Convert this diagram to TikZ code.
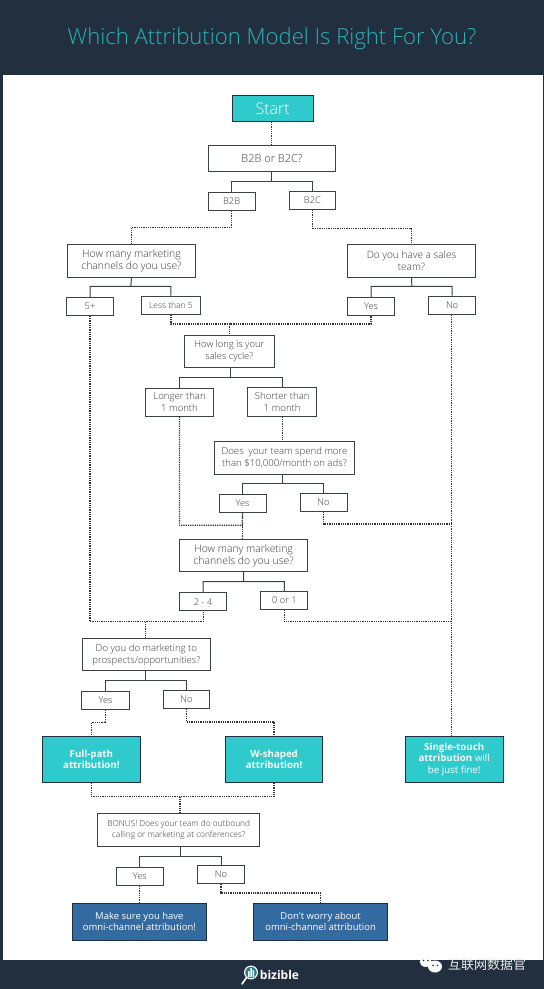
\documentclass[tikz,border=0pt]{standalone}
\usepackage{fontspec}
\setmainfont{Open Sans Light}[BoldFont={Open Sans Bold}]
\newfontfamily\regfont{Open Sans}
\newfontfamily\cjkfont{Noto Sans CJK SC}
\definecolor{navy}{HTML}{212F3F}
\definecolor{teal}{HTML}{2FCACB}
\definecolor{titleteal}{HTML}{2AB3B8}
\definecolor{bluebox}{HTML}{336A9F}
\definecolor{txt}{HTML}{3A3A3A}
\definecolor{edge}{HTML}{3B4148}
\tikzset{
 x=1pt,y=-1pt,
 qbox/.style={draw=edge,line width=1pt,fill=white,inner sep=0pt,align=center,text=txt,font=\fontsize{9.6}{12}\selectfont},
 qbig/.style={qbox,font=\fontsize{10.4}{12}\selectfont},
 small/.style={qbox,font=\fontsize{9.3}{10}\selectfont},
 goal/.style={draw=navy,line width=1pt,fill=teal,inner sep=0pt,align=center,text=white,font=\regfont\fontsize{9.7}{11.4}\selectfont},
 bluegoal/.style={draw=navy,line width=1pt,fill=bluebox,inner sep=0pt,align=center,text=white,font=\regfont\fontsize{9.5}{11}\selectfont},
 bus/.style={draw=edge,line width=1pt},
 dots/.style={draw=black!80,line width=1.25pt,dash pattern=on 1.25pt off 1pt},
}
\newcommand{\bx}[7]{\node[#1,minimum width=#5pt-#3pt,minimum height=#6pt-#4pt] (#2) at ({(#3+#5)/2},{(#4+#6)/2}) {#7};}
\begin{document}
\begin{tikzpicture}
\useasboundingbox (0,0) rectangle (544,989);
\fill[navy] (0,0) rectangle (544,989);
\fill[white] (2.5,75.3) rectangle (542.7,960);
\node[font=\fontsize{22.1}{26}\selectfont,text=titleteal] (title) at (272,39) {Which Attribution Model Is Right For You?};

\bx{goal,font=\fontsize{16}{18}\selectfont}{start}{232.1}{95.3}{313.3}{121.3}{Start}
\bx{qbox,font=\fontsize{11}{13}\selectfont}{q1}{208.2}{145.3}{335.9}{171.7}{B2B or B2C?}
\bx{small}{b2b}{208.2}{192.3}{255}{210.3}{B2B}
\bx{small}{b2c}{289}{191.3}{335.9}{209.3}{B2C}
\bx{qbig}{hm1}{67.3}{244}{195.7}{277}{How many marketing\\channels do you use?}
\bx{qbox,font=\fontsize{10.1}{12}\selectfont}{sales}{347.3}{244}{475.7}{277}{Do you have a sales\\team?}
\bx{small}{five}{66.3}{297.3}{113.8}{315.3}{5+}
\bx{small,font=\fontsize{8.5}{9}\selectfont}{less}{141.2}{296}{200.6}{314}{Less than 5}
\bx{small}{syes}{347.3}{297.3}{394.9}{315.3}{Yes}
\bx{small}{sno}{428.5}{296}{475.7}{314}{No}
\bx{qbox,font=\fontsize{9.4}{12}\selectfont}{cycle}{184.2}{335.3}{274.5}{367.7}{How long is your\\sales cycle?}
\bx{qbox}{longer}{145.4}{388.3}{213.7}{416}{Longer than\\1 month}
\bx{qbox}{shorter}{247.7}{387}{316.8}{416}{Shorter than\\1 month}
\bx{qbox}{ads}{214.4}{441.7}{354.6}{474}{Does\ \ your team spend more\\than \$10,000/month on ads?}
\bx{small}{ayes}{219}{494.3}{266.1}{512.3}{Yes}
\bx{small}{ano}{300.1}{493}{347}{511.3}{No}
\bx{qbig}{hm2}{179.4}{539}{307.8}{571.7}{How many marketing\\channels do you use?}
\bx{small}{two}{179.7}{592.7}{226.6}{610.7}{2 - 4}
\bx{small}{zero}{260.9}{591.3}{307.8}{609.3}{0 or 1}
\bx{qbox}{pros}{82.2}{638.3}{210.6}{670.7}{Do you do marketing to\\prospects/opportunities?}
\bx{small}{pyes}{81.9}{691.3}{129.1}{709.3}{Yes}
\bx{small}{pno}{163.1}{690}{209.9}{708.3}{No}
\bx{goal}{full}{42.3}{736.3}{140.5}{782.3}{\textbf{Full-path}\\\textbf{attribution!}}
\bx{goal}{wsh}{225.5}{736.3}{322.7}{782.3}{\textbf{W-shaped}\\\textbf{attribution!}}
\bx{goal}{single}{405.3}{736.3}{503.1}{782.3}{\textbf{Single-touch}\\\textbf{attribution} will\\be just fine!}
\bx{qbox,font=\fontsize{8.3}{10.4}\selectfont}{bonus}{97.8}{813.7}{259.5}{846.3}{BONUS! Does your team do outbound\\calling or marketing at conferences?}
\bx{small}{byes}{116.2}{867}{163.4}{885.3}{Yes}
\bx{small}{bno}{197.4}{865.7}{244.6}{883.7}{No}
\bx{bluegoal}{sure}{72.2}{903.3}{206.5}{940.3}{Make sure you have\\omni-channel attribution!}
\bx{bluegoal}{dont}{253.6}{903.3}{387.6}{940.3}{Don't worry about\\omni-channel attribution}

% junction coordinates
\coordinate (r1) at (271.3,181.3);
\coordinate (r2) at (130.8,286.3);
\coordinate (r3) at (411.9,286.3);
\coordinate (r4) at (230.7,377.3);
\coordinate (r5) at (282.8,483.3);
\coordinate (r6) at (243.6,581.7);
\coordinate (r7) at (145.7,680.3);
\coordinate (r8) at (180.4,856);
\coordinate (d1) at (180.8,227.3);
\coordinate (d2) at (311.6,228.3);
\coordinate (d3) at (229.7,324);
\coordinate (d4) at (242.2,525.3);
\coordinate (d5) at (451.8,524);
\coordinate (d6) at (145.7,621.7);
\coordinate (d7) at (451.8,621.7);
\coordinate (d8) at (104.8,722.7);
\coordinate (d9) at (272.7,722);
\coordinate (d10) at (180,796.7);
\coordinate (d11) at (220,893);

% solid forks
\draw[bus] (q1.south -| r1) -- (r1) (b2b.north) |- (r1) -| (b2c.north);
\draw[bus] (hm1.south) -- (r2) (five.north) |- (r2) -| (less.north);
\draw[bus] (sales.south) -- (r3) (syes.north) |- (r3) -| (sno.north);
\draw[bus] (cycle.south -| r4) -- (r4) (longer.north) |- (r4) -| (shorter.north);
\draw[bus] (ads.south -| r5) -- (r5) (ayes.north) |- (r5) -| (ano.north);
\draw[bus] (hm2.south) -- (r6) (two.north) |- (r6) -| (zero.north);
\draw[bus] (pros.south -| r7) -- (r7) (pyes.north) |- (r7) -| (pno.north);
\draw[bus] (bonus.south -| r8) -- (r8) (byes.north) |- (r8) -| (bno.north);

% dotted connectors
\draw[dots] (start.south -| r1) -- (q1.north -| r1);
\draw[dots] (b2b.south) |- (d1) -| (hm1.north);
\draw[dots] (b2c.south) |- (d2) -| (sales.north);
\draw[dots] (less.south) |- (d3) -| (syes.south);
\draw[dots] (d3) -- (cycle.north -| d3);
\draw[dots] (five.south) |- (d6) -| (two.south);
\draw[dots] (d6) -- (pros.north -| d6);
\draw[dots] (sno.south -| d5) -- (single.north -| d5);
\draw[dots] (shorter.south) -- (ads.north -| shorter.south);
\draw[dots] (longer.south) |- (d4) -- (ayes.south);
\draw[dots] (ayes.south) -- (hm2.north -| ayes.south);
\draw[dots] (ano.south) |- (d5);
\draw[dots] (zero.south) |- (d7);
\draw[dots] (pyes.south) |- (d8) -| (full.north);
\draw[dots] (pno.south) |- (d9) -| (wsh.north);
\draw[dots] (full.south) |- (d10) -| (wsh.south);
\draw[dots] (d10) -- (bonus.north -| d10);
\draw[dots] (byes.south) -- (sure.north -| byes.south);
\draw[dots] (bno.south) |- (d11) -| (dont.north);

% logo
\node[font=\regfont\bfseries\fontsize{12}{14}\selectfont,text=white,inner sep=0pt] (logo) at (279.5,975) {bizible};
\draw[white,line width=1.1pt,fill=titleteal!60!navy] (251,972.5) circle (6.4);
\draw[white,line width=1.6pt,line cap=round] (246.5,977.5) -- (242,984);
\fill[white] (248,971) rectangle (249.5,977) (250.3,968) rectangle (251.8,977) (252.6,970) rectangle (254.1,977);

% watermark
\fill[white] (425.7,961.7) ellipse (6 and 5.2);
\fill[white] (435,966.5) ellipse (7 and 6);
\fill[navy] (423.5,960.5) circle (0.8) (428,960.5) circle (0.8) (433,965.5) circle (0.8) (437.5,965.5) circle (0.8);
\node[font=\cjkfont\fontsize{13}{15}\selectfont,text=white!92!black,inner sep=0pt] (wm) at (487,964.5) {互联网数据官};
\end{tikzpicture}
\end{document}
